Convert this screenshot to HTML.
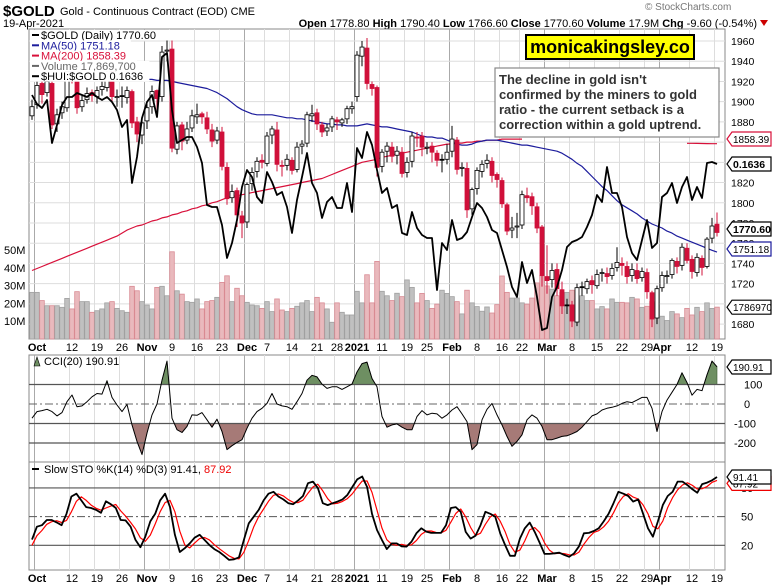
<!DOCTYPE html>
<html><head><meta charset="utf-8"><style>
html,body{margin:0;padding:0;background:#fff;}
svg{display:block;font-family:"Liberation Sans",sans-serif;}
</style></head><body>
<svg id="c" width="773" height="586" viewBox="0 0 773 586" xmlns="http://www.w3.org/2000/svg">
<rect x="0" y="0" width="773" height="586" fill="#fff"/>
<text x="3" y="16" font-size="15" font-weight="bold" fill="#000">$GOLD</text>
<text x="60" y="15" font-size="11" fill="#000">Gold - Continuous Contract (EOD)  CME</text>
<text x="3" y="27" font-size="11" fill="#000">19-Apr-2021</text>
<text x="645" y="10" font-size="10" fill="#777">© StockCharts.com</text>
<text x="757" y="27" font-size="11" text-anchor="end" fill="#000"><tspan font-weight="bold">Open</tspan> 1778.80 <tspan font-weight="bold">High</tspan> 1790.40 <tspan font-weight="bold">Low</tspan> 1766.60 <tspan font-weight="bold">Close</tspan> 1770.60 <tspan font-weight="bold">Volume</tspan> 17.9M <tspan font-weight="bold">Chg</tspan> -9.60 (-0.54%)</text>
<polygon points="760,20 768,20 764,26" fill="#c00"/>
<g id="g"></g>
</svg>
<script>
const closes=[1895,1916,1907,1920,1877,1887,1895,1930,1925,1894,1901,1908,1906,1911,1915,1929,1905,1905,1905,1911,1879,1868,1879,1894,1910,1903,1949,1951,1854,1876,1861,1873,1886,1887,1885,1873,1861,1871,1836,1804,1811,1788,1780,1818,1830,1841,1840,1866,1873,1838,1836,1843,1832,1855,1858,1887,1888,1878,1870,1874,1883,1880,1882,1893,1895,1946,1954,1918,1913,1835,1850,1856,1846,1851,1829,1840,1866,1865,1855,1855,1850,1842,1842,1850,1863,1833,1835,1793,1813,1832,1838,1842,1827,1823,1799,1772,1775,1777,1808,1805,1797,1775,1728,1723,1733,1715,1698,1698,1683,1716,1716,1722,1719,1729,1731,1727,1735,1741,1738,1727,1734,1725,1732,1712,1685,1715,1728,1728,1743,1737,1756,1743,1732,1746,1736,1764,1777,1770.6];
const opens=[1886,1897,1918,1909,1918,1878,1889,1894,1929,1926,1895,1902,1909,1905,1912,1914,1930,1904,1906,1904,1910,1880,1867,1881,1895,1911,1905,1950,1952,1853,1877,1862,1874,1885,1888,1884,1872,1862,1870,1835,1805,1812,1787,1781,1819,1831,1842,1839,1867,1872,1837,1837,1842,1833,1856,1859,1886,1889,1877,1871,1875,1882,1879,1883,1893,1905,1945,1953,1917,1914,1836,1851,1855,1847,1850,1830,1841,1865,1866,1854,1856,1849,1843,1843,1851,1862,1834,1834,1794,1814,1831,1839,1841,1828,1822,1798,1773,1776,1778,1807,1806,1796,1776,1727,1724,1734,1714,1699,1699,1682,1717,1715,1723,1718,1730,1730,1728,1736,1740,1737,1728,1733,1726,1731,1711,1686,1716,1727,1729,1742,1738,1755,1744,1731,1745,1737,1765,1778.8];
const highs=[1902,1920,1922,1925,1921,1893,1900,1934,1933,1928,1906,1914,1912,1915,1920,1933,1932,1912,1915,1915,1912,1885,1882,1898,1916,1912,1955,1966,1965,1880,1880,1880,1892,1898,1890,1890,1878,1875,1875,1840,1818,1815,1792,1820,1835,1845,1848,1870,1876,1880,1842,1848,1845,1860,1862,1890,1897,1893,1880,1878,1886,1885,1884,1896,1900,1950,1960,1963,1920,1916,1853,1860,1860,1856,1855,1845,1870,1870,1870,1860,1860,1852,1848,1858,1876,1865,1840,1840,1815,1835,1842,1848,1845,1830,1825,1800,1786,1790,1812,1815,1810,1800,1778,1758,1740,1740,1722,1705,1703,1720,1722,1725,1728,1734,1735,1736,1740,1756,1746,1742,1740,1740,1736,1735,1713,1718,1732,1733,1745,1746,1760,1760,1748,1750,1748,1766,1785,1790.4];
const lows=[1882,1893,1898,1905,1873,1870,1883,1890,1918,1888,1890,1898,1900,1898,1906,1910,1900,1895,1894,1898,1874,1860,1858,1873,1888,1892,1900,1940,1850,1848,1852,1858,1870,1878,1878,1868,1855,1858,1832,1798,1800,1776,1765,1775,1812,1825,1834,1836,1858,1831,1826,1832,1828,1830,1848,1855,1880,1872,1865,1866,1870,1872,1875,1878,1888,1900,1935,1912,1906,1826,1830,1840,1840,1838,1825,1825,1835,1855,1846,1848,1840,1836,1830,1838,1845,1828,1826,1785,1788,1808,1825,1834,1820,1815,1795,1768,1765,1765,1774,1800,1788,1770,1717,1710,1716,1708,1690,1690,1677,1678,1708,1710,1710,1715,1722,1720,1724,1732,1728,1720,1722,1720,1722,1705,1677,1680,1712,1720,1725,1730,1733,1740,1725,1727,1728,1735,1760,1766.6];
const volumes=[26.2,26.2,21.6,18.7,18.7,18.7,17.8,22.8,16.9,26.6,21.0,21.0,15.0,15.9,16.9,20.3,21.0,17.2,15.9,15.0,29.6,27.1,21.0,19.1,16.9,29.0,29.6,24.3,49.0,27.1,25.2,21.0,20.6,22.5,16.9,21.0,21.6,23.4,31.8,35.5,21.0,28.5,24.3,20.6,19.1,18.7,17.2,21.0,15.4,22.5,16.3,15.4,17.2,18.4,20.3,21.6,15.4,23.4,20.3,16.9,9.4,20.3,15.0,13.5,13.5,26.8,20.3,36.1,20.3,43.6,26.8,24.3,21.6,25.7,23.8,33.2,29.0,20.3,25.6,21.6,17.2,19.6,27.4,25.6,23.8,21.0,14.1,27.4,20.3,18.2,15.6,18.0,14.6,19.3,35.4,26.2,23.0,23.0,20.3,19.6,23.0,31.5,35.5,29.8,28.0,24.3,26.2,26.2,27.4,22.5,24.3,21.6,21.6,16.9,18.2,16.9,22.5,20.6,20.6,20.3,23.4,22.5,17.8,18.4,21.0,20.3,12.8,10.4,15.4,14.1,12.0,17.2,13.5,17.8,15.4,20.3,17.2,17.9];
const ma50=[1936,1935,1934,1934,1933,1932,1931,1931,1930,1929,1929,1928,1928,1927,1927,1926,1926,1925,1925,1924,1924,1923,1923,1922,1922,1921,1921,1921,1920,1919,1918,1917,1916,1915,1914,1913,1911,1909,1906,1903,1899,1895,1892,1890,1888,1887,1887,1887,1887,1886,1885,1884,1884,1883,1883,1882,1881,1880,1879,1878,1878,1877,1877,1876,1876,1876,1877,1878,1877,1876,1875,1875,1874,1873,1872,1871,1870,1868,1866,1865,1865,1864,1864,1862,1860,1858,1857,1857,1858,1860,1861,1862,1862,1862,1861,1860,1859,1858,1857,1857,1856,1855,1854,1853,1852,1851,1849,1846,1843,1839,1836,1831,1826,1821,1816,1812,1807,1802,1798,1795,1792,1789,1785,1782,1779,1777,1775,1772,1770,1767,1765,1763,1761,1759,1757,1755,1753,1751.2];
const ma200=[1733,1735,1737,1739,1741,1743,1745,1747,1749,1751,1753,1755,1757,1759,1761,1763,1765,1767,1770,1773,1775,1777,1778,1780,1782,1783,1785,1786,1788,1789,1791,1792,1794,1795,1797,1798,1800,1801,1803,1805,1806,1807,1808,1809,1810,1811,1812,1813,1814,1815,1816,1817,1818,1819,1820,1821,1822,1823,1824,1826,1828,1830,1832,1834,1836,1838,1840,1841,1842,1843,1845,1846,1847,1848,1849,1850,1851,1852,1853,1854,1855,1856,1857,1858,1858,1859,1859,1860,1860,1861,1861,1862,1862,1862,1863,1863,1863,1863,1863,1863,1863,1863,1863,1863,1862,1862,1862,1862,1862,1861,1861,1861,1861,1861,1860,1860,1860,1860,1860,1860,1860,1859,1859,1859,1859,1859,1859,1859,1859,1859,1859,1858.8,1858.8,1858.7,1858.6,1858.5,1858.4,1858.39];
const huiRatio=[.1705,.1696,.1692,.1700,.1657,.1675,.1695,.1703,.1703,.1707,.1705,.1703,.1707,.1703,.1700,.1703,.1698,.1690,.1673,.1680,.1617,.1643,.1682,.1698,.1705,.1683,.1743,.1747,.1690,.1657,.1660,.1663,.1663,.1653,.1637,.1595,.1593,.1593,.1575,.1542,.1557,.1580,.1613,.1630,.1623,.1603,.1597,.1628,.1618,.1605,.1608,.1593,.1567,.1600,.1623,.1647,.1617,.1607,.1582,.1598,.1603,.1592,.1592,.1617,.1588,.1652,.1642,.1668,.1655,.1630,.1607,.1612,.1592,.1595,.1567,.1565,.1588,.1572,.1565,.1562,.1562,.1510,.1557,.1550,.1580,.1560,.1562,.1568,.1583,.1597,.1592,.1583,.1570,.1567,.1550,.1533,.1513,.1503,.1538,.1517,.1530,.1503,.1470,.1472,.1503,.1513,.1530,.1553,.1558,.1560,.1563,.1573,.1585,.1605,.1598,.1633,.1607,.1607,.1593,.1563,.1547,.1540,.1560,.1580,.1552,.1557,.1603,.1607,.1617,.1597,.1613,.1623,.1600,.1613,.1602,.1637,.1638,.1636];
const cci=[-73,-39,-34,-27,-39,-61,-44,12,46,-14,-10,12,37,54,51,119,34,-5,-39,-2,-107,-192,-259,-149,-56,0,122,220,-73,-132,-146,-115,-56,-58,-44,-81,-119,-78,-141,-234,-214,-197,-183,-124,-73,-39,-22,3,54,0,-10,-14,-27,12,54,122,147,139,102,80,88,88,75,88,102,164,207,215,131,88,-64,-119,-107,-102,-119,-132,-132,-64,-34,-56,-47,-51,-73,-56,-31,-14,-51,-90,-234,-208,-81,-27,3,-56,-107,-166,-217,-192,-158,-81,-56,-73,-115,-183,-183,-175,-166,-163,-153,-141,-119,-90,-61,-51,-31,-22,-17,-10,3,12,7,20,34,34,-22,-141,-39,20,60,100,160,110,45,75,68,150,220,190.91];
const stoK=[26,39.5,41,46.5,46.5,44,41,53,71,74,67,60,59,57,54,66,63,59,46.5,46,39.5,25.6,18,29,45,53,67,74,60,31,13,17,22,28,31,25.6,20.3,16,13,9,4.7,5.4,7.4,25.6,43,50,57,67,74,76,71,68,64,63,67,71.6,85,86.6,80,64,62,64,65.7,68,72.7,81,89,92,81,53,36,25.6,16,22,22,19,18.6,23.8,32.6,37.8,34.3,33,33,33,41,59,60,55,34,27,30,41,55,53,50,32.6,20.3,9,9,27,37.8,43.7,34,22.8,11,11,11.6,12.3,10,8,11.6,19,32.6,33,35,37.8,45,53,64,76,74,71.6,65.7,68,53,37.8,29,45,62,71.6,76,86.6,86.6,83,78.6,75,84,85.6,88,91.41];
const stoD=[20,30,35.5,42,44.7,45.7,43.8,46,55,66,70.7,67,62,58.7,56.7,59,61,62.7,56,50.5,44,37,27.7,24.2,30.7,42.3,55,64.7,67,55,34.7,20.3,17.3,22.3,27,28.2,25.6,20.6,16.4,12.7,8.9,6.4,5.8,12.8,25.3,39.5,50,58,66,72.3,73.7,71.7,67.7,65,64.7,67.2,74.5,81,83.9,76.9,68.7,63.3,63.9,65.9,68.8,73.9,80.9,87.3,87.3,75.3,56.7,38.2,25.9,21.2,20,21,19.9,20.5,25,31.4,34.9,35,33.4,33,35.7,44.3,53.3,58,49.7,38.7,30.3,32.7,42,49.7,52.7,45.2,34.3,20.6,12.8,15,24.6,36.2,38.5,33.5,22.6,15,11.2,11.6,11.3,10.1,9.9,12.9,21.1,28.2,33.5,35.3,39.3,45.3,54,64.3,71.3,73.9,70.4,68.4,62.2,52.9,39.9,37.3,45.3,59.5,69.9,78.1,83.1,85.4,82.7,78.9,79.2,81.5,85.9,87.92];
const xTickLabels=["Oct","12","19","26","Nov","9","16","23","Dec","7","14","21","28","2021","11","19","25","Feb","8","16","22","Mar","8","15","22","29","Apr","12","19"];
const xTickIndex=[1,8,13,18,23,28,33,38,43,47,52,57,61,65,70,75,79,84,89,94,98,103,108,113,118,123,126,132,137];
const priceTicks=[1960,1940,1920,1900,1880,1860,1840,1820,1800,1780,1760,1740,1720,1700,1680];
const volTicks=[50,40,30,20,10];
const cciTicks=[100,0,-100,-200];
const stoTicks=[80,50,20];

const NS="http://www.w3.org/2000/svg";
const G=document.getElementById('g');
function mk(tag,attrs,parent){const e=document.createElementNS(NS,tag);for(const k in attrs)e.setAttribute(k,attrs[k]);(parent||G).appendChild(e);return e;}
const L=29,R=725,MT=29,MB=339,CT=355,CB=462,ST=462,SB=570;
const xI=i=>32+i*(685/(closes.length-1));
const xN=(i,n)=>32+i*(685/(n-1));
const yP=p=>41+(1960-p)*1.011;
const yV=v=>339-v*1.78;
const yR=r=>(0.18-r)*10000;
const yC=c=>404-c*0.195;
const yS=s=>545.3-(s-20)*0.956;
const monthLbl=["Oct","Nov","Dec","2021","Feb","Mar","Apr"];

[[MT,MB,'main-panel'],[CT,CB,'cci-panel'],[ST,SB,'sto-panel']].forEach(p=>{
  const r=mk('rect',{x:L,y:p[0],width:R-L,height:p[1]-p[0],fill:'#fff',stroke:'#888','stroke-width':1});
  
  
  xTickIndex.forEach((ti,k)=>{
    const gx=xI(ti)-2.5;
    const ln=mk('line',{x1:gx,x2:gx,y1:p[0],y2:p[1],stroke:monthLbl.includes(xTickLabels[k])?'#aaa':'#ddd','stroke-width':1});
    
    
  });
});
priceTicks.forEach(p=>{
  const ln=mk('line',{x1:L,x2:R,y1:yP(p),y2:yP(p),stroke:'#ddd'});
  
  
  const t=mk('text',{x:731,y:yP(p)+4,'font-size':10.5,fill:'#000'});
  t.textContent=p;
  
  
});
volTicks.forEach(v=>{
  const t=mk('text',{x:4,y:yV(v)+4,'font-size':11,fill:'#000'});
  t.textContent=v+'M';
  
  
});
volumes.forEach((v,i)=>{
  const down=i>0&&closes[i]<closes[i-1];
  const b=mk('rect',{x:xI(i)-2.3,y:yV(v),width:4.6,height:339-yV(v),fill:down?'#e9b9bd':'#c0c0c0',stroke:down?'#d98a93':'#a0a0a0','stroke-width':0.8});
  
  
});
function poly(arr,fx,fy,color,w,name,filter){
  let segs=[],cur=[];
  arr.forEach((v,i)=>{if(filter&&!filter(i)){if(cur.length)segs.push(cur);cur=[];return;}cur.push(fx(i).toFixed(1)+','+fy(v).toFixed(1));});
  if(cur.length)segs.push(cur);
  segs.forEach(s=>{const p=mk('polyline',{points:s.join(' '),fill:'none',stroke:color,'stroke-width':w,'stroke-linejoin':'round'});
    
    });
}
poly(ma200,xI,yP,'#d8103a',1.2,'ma200-line',i=>i<=98||i>=131);
poly(ma50,xI,yP,'#1c1c9c',1.2,'ma50-line');
closes.forEach((c,i)=>{
  const o=opens[i],h=highs[i],l=lows[i];
  const red=i>0&&c<closes[i-1];
  const col=red?'#d0103a':'#000';
  const x=xI(i);
  const w=mk('line',{x1:x,x2:x,y1:yP(h),y2:yP(l),stroke:col,'stroke-width':1});
  
  
  const top=yP(Math.max(o,c)),bot=yP(Math.min(o,c));
  const b=mk('rect',{x:x-2,y:top,width:4,height:Math.max(1,bot-top),fill:c>o?'#fff':col,stroke:col,'stroke-width':0.8});
  
  
});
poly(huiRatio,xI,yR,'#000',1.8,'hui-gold-ratio-line');

const leg=[["$GOLD (Daily) 1770.60",'#000'],["MA(50) 1751.18",'#1c1c9c'],["MA(200) 1858.39",'#d8103a'],["Volume 17,869,700",'#666'],["$HUI:$GOLD 0.1636",'#000']];
leg.forEach((e,k)=>{
  const y=39+k*10.3;
  const bg=mk('rect',{x:30,y:y-9,width:e[0].length*6.2+14,height:10.5,fill:'#fff'});
  
  
  const sw=mk('rect',{x:32,y:y-5,width:7,height:2,fill:e[1]});
  
  
  const t=mk('text',{x:41,y:y,'font-size':11,fill:e[1]});
  t.textContent=e[0];
  
  
});
const wm=mk('rect',{x:526,y:35,width:168,height:24,fill:'#ffff00',stroke:'#000','stroke-width':2});


const wmt=mk('text',{x:610,y:53,'font-size':18,'font-weight':'bold','text-anchor':'middle',fill:'#000'});
wmt.textContent='monicakingsley.co';


const ab=mk('rect',{x:495,y:68,width:224,height:69,fill:'#fff',stroke:'#888','stroke-width':1.2});


["The decline in gold isn't","confirmed by the miners to gold","ratio - the current setback is a","correction within a gold uptrend."].forEach((s,k)=>{
  const t=mk('text',{x:499,y:84+k*15,'font-size':13,'font-weight':'bold',fill:'#333'});
  t.textContent=s;
  
  
});
function tag(y,txt,color,bold,name){
  const p=mk('polygon',{points:`727,${y} 732,${y-7} 771,${y-7} 771,${y+7} 732,${y+7}`,fill:'#fff',stroke:color,'stroke-width':1.2});
  
  
  const t=mk('text',{x:733,y:y+4,'font-size':bold?10.5:10,'font-weight':bold?'bold':'normal',fill:'#000'});
  t.textContent=txt;
  
  
}
tag(139,'1858.39','#d8103a',false,'ma200-value');
tag(yR(0.1636),'0.1636','#000',true,'ratio-value');
tag(229,'1770.60','#000',true,'price-value');
tag(249,'1751.18','#1c1c9c',false,'ma50-value');
tag(yV(17.87),'1786970','#000',false,'volume-value');

[347,578].forEach((yy,r)=>{
  xTickIndex.forEach((ti,k)=>{
    const lbl=xTickLabels[k];
    const t=mk('text',{x:xI(ti),y:yy+4,'font-size':11,'text-anchor':'middle','font-weight':monthLbl.includes(lbl)?'bold':'normal',fill:'#000'});
    t.textContent=lbl;
    
    
  });
});

const defs=mk('defs',{});
const cp1=mk('clipPath',{id:'cAbove'},defs);mk('rect',{x:L,y:CT,width:R-L,height:yC(100)-CT},cp1);
const cp2=mk('clipPath',{id:'cBelow'},defs);mk('rect',{x:L,y:yC(-100),width:R-L,height:CB-yC(-100)},cp2);
const cn=cci.length;
const cpts=cci.map((v,i)=>xN(i,cn).toFixed(1)+','+yC(v).toFixed(1)).join(' ');
const f1=mk('polygon',{points:`${xN(0,cn)},${yC(100)} ${cpts} ${xN(cn-1,cn)},${yC(100)}`,fill:'#6e8f62',stroke:'#3a5a30','stroke-width':0.6,'clip-path':'url(#cAbove)'});


const f2=mk('polygon',{points:`${xN(0,cn)},${yC(-100)} ${cpts} ${xN(cn-1,cn)},${yC(-100)}`,fill:'#a67a77',stroke:'#5a3030','stroke-width':0.6,'clip-path':'url(#cBelow)'});


cciTicks.forEach(v=>{
  const ln=mk('line',{x1:L,x2:R,y1:yC(v),y2:yC(v),stroke:v===0?'#666':'#555','stroke-width':v===0?1:1.2,'stroke-dasharray':v===0?'8,3,2,3':'none'});
  
  
  const t=mk('text',{x:v<0?734:744,y:yC(v)+4,'font-size':11,fill:'#000'});
  t.textContent=v;
  
  
});
poly(cci,i=>xN(i,cn),yC,'#000',1,'cci-line');
const cl=mk('text',{x:44,y:365,'font-size':11,fill:'#000'});
cl.textContent='CCI(20) 190.91';


const ci=mk('polygon',{points:'34,366 37,357 40,366',fill:'#6e8f62',stroke:'#000','stroke-width':0.6});


tag(367,'190.91','#000',false,'cci-value');

stoTicks.forEach(v=>{
  const ln=mk('line',{x1:L,x2:R,y1:yS(v),y2:yS(v),stroke:'#555','stroke-width':v===50?1:1.2,'stroke-dasharray':v===50?'8,3,2,3':'none'});
  
  
  const t=mk('text',{x:741,y:yS(v)+4,'font-size':11,fill:'#000'});
  t.textContent=v;
  
  
});
const sn=stoK.length;
poly(stoD,i=>xN(i,sn),yS,'#ff0000',1.2,'sto-d-line');
poly(stoK,i=>xN(i,sn),yS,'#000',1.8,'sto-k-line');
const sl=mk('text',{x:44,y:473,'font-size':11,fill:'#000'});
sl.innerHTML='Slow STO %K(14) %D(3) 91.41, <tspan fill="#e00">87.92</tspan>';


const ss=mk('rect',{x:32,y:468,width:7,height:2,fill:'#000'});


tag(yS(87.92)+3,'87.92','#e00',false,'sto-d-value');
tag(yS(91.41),'91.41','#000',false,'sto-k-value');
</script>
</body></html>
